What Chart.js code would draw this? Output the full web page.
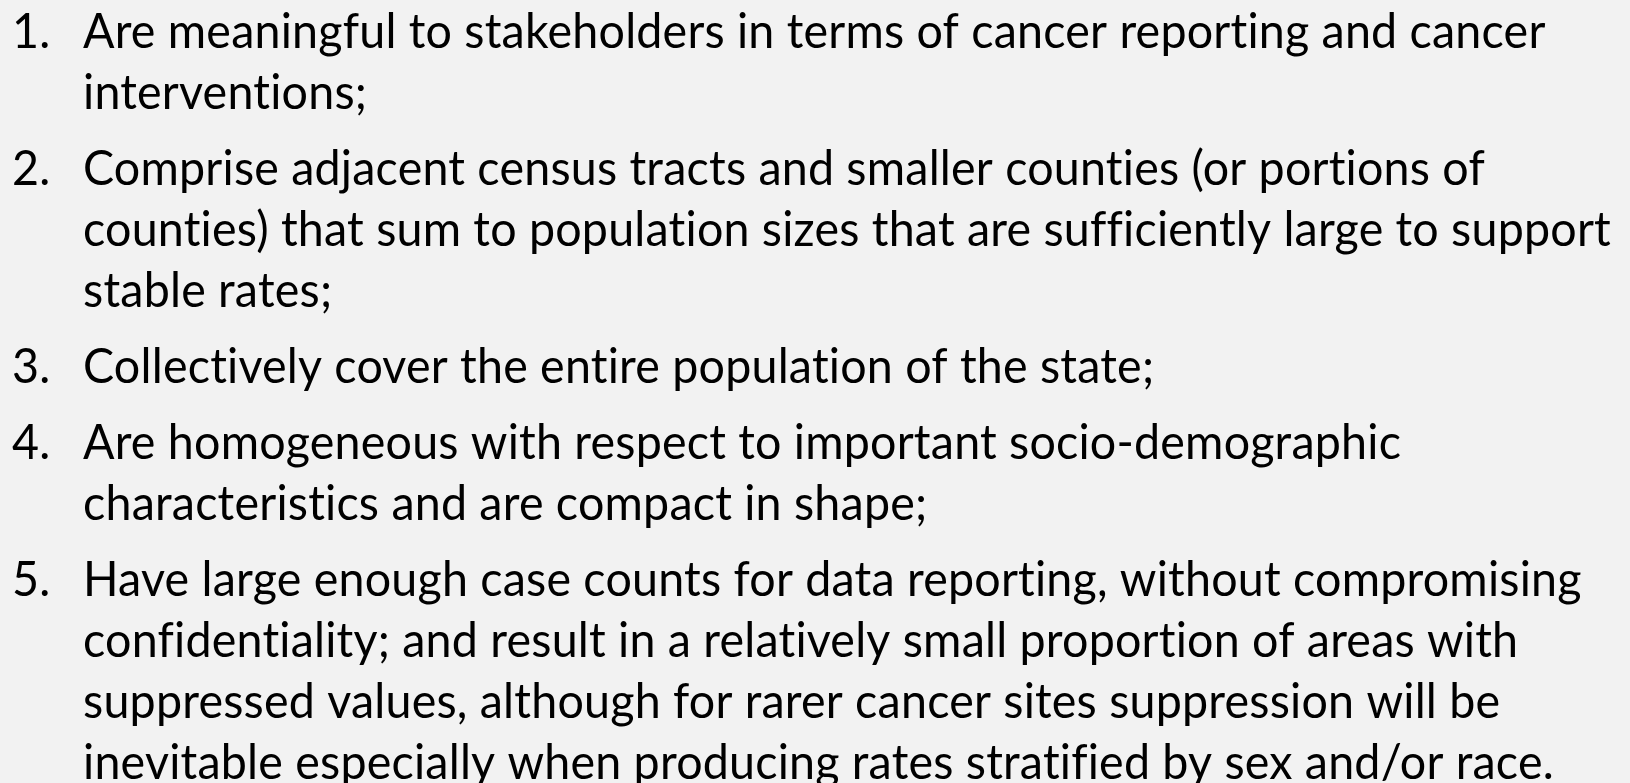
<!DOCTYPE html>
<html>
<head>
<meta charset="utf-8">
<script src="https://cdn.jsdelivr.net/npm/chart.js"></script>
<style>
    html, body { margin: 0; padding: 0; background: #f2f2f2; overflow: hidden; }
    #wrap { width: 1630px; height: 783px; }
</style>
</head>
<body>
<div id="wrap"><canvas id="slide"></canvas></div>
<script>
// list content of the slide
const itemNumbers = ['1.', '2.', '3.', '4.', '5.'];
const itemLines = [
    ['Are meaningful to stakeholders in terms of cancer reporting and cancer',
     'interventions;'],
    ['Comprise adjacent census tracts and smaller counties (or portions of',
     'counties) that sum to population sizes that are sufficiently large to support',
     'stable rates;'],
    ['Collectively cover the entire population of the state;'],
    ['Are homogeneous with respect to important socio-demographic',
     'characteristics and are compact in shape;'],
    ['Have large enough case counts for data reporting, without compromising',
     'confidentiality; and result in a relatively small proportion of areas with',
     'suppressed values, although for rarer cancer sites suppression will be',
     'inevitable especially when producing rates stratified by sex and/or race.']
];

const listLayout = {
    fontFamily: 'Lato',
    fontSize: 49,
    firstBaseline: 48,
    lineStep: 61,
    itemGap: 15,
    numberX: 12,
    textX: 83,
    widestLine: 1528
};

const listPlugin = {
    id: 'listText',
    beforeDraw(chart) {
        const ctx = chart.ctx;
        ctx.save();
        ctx.fillStyle = '#f2f2f2';
        ctx.fillRect(0, 0, chart.width, chart.height);
        ctx.restore();
    },
    afterDraw(chart) {
        const ctx = chart.ctx;
        const L = listLayout;
        ctx.save();
        ctx.font = L.fontFamily ? L.fontSize + 'px ' + L.fontFamily : '';
        // a tiny letter spacing keeps the ti / fi ligatures apart
        if ('letterSpacing' in ctx) ctx.letterSpacing = '0.2px';
        ctx.fillStyle = '#000000';
        ctx.textBaseline = 'alphabetic';
        ctx.textAlign = 'left';

        // squeeze horizontally so the longest line matches the slide width
        let maxW = 0;
        itemLines.forEach(lines => lines.forEach(t => {
            maxW = Math.max(maxW, ctx.measureText(t).width);
        }));
        const sx = L.widestLine / maxW;

        let y = L.firstBaseline;
        for (let i = 0; i < itemLines.length; i++) {
            ctx.save();
            ctx.translate(L.numberX, y);
            ctx.scale(sx, 1);
            ctx.fillText(itemNumbers[i], 0, 0);
            ctx.restore();
            for (let j = 0; j < itemLines[i].length; j++) {
                ctx.save();
                ctx.translate(L.textX, y);
                ctx.scale(sx, 1);
                ctx.fillText(itemLines[i][j], 0, 0);
                ctx.restore();
                y += L.lineStep;
            }
            y += L.itemGap;
        }
        ctx.restore();
    }
};

const slide = new Chart(document.getElementById('slide'), {
    type: 'scatter',
    data: { datasets: [] },
    options: {
        responsive: true,
        maintainAspectRatio: false,
        animation: false,
        layout: { padding: 0 },
        plugins: {
            legend: { display: false },
            tooltip: { enabled: false },
            title: { display: false }
        },
        scales: {
            x: { display: false },
            y: { display: false }
        }
    },
    plugins: [listPlugin]
});
</script>
</body>
</html>
